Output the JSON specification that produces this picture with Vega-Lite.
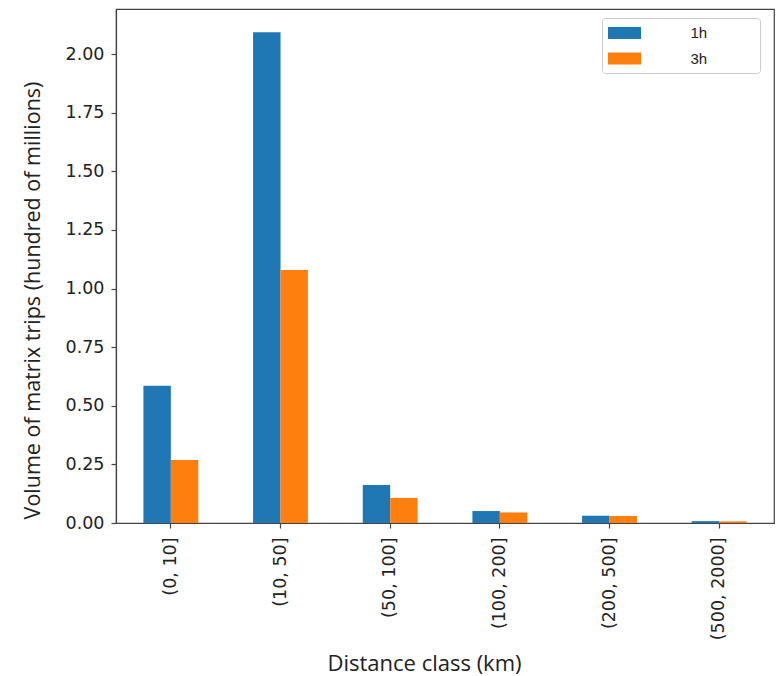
{
  "$schema": "https://vega.github.io/schema/vega-lite/v6.json",
  "width": 658,
  "height": 514,
  "autosize": {"type": "none"},
  "padding": {"left": 116, "top": 9, "right": 2, "bottom": 153},
  "background": "white",
  "config": {
    "view": {"stroke": "#444", "strokeWidth": 1.2},
    "axis": {
      "domainColor": "#444",
      "domainWidth": 1.2,
      "tickColor": "#444",
      "tickWidth": 1.2,
      "tickSize": 5,
      "labelFont": "DejaVu Sans",
      "labelFontSize": 17.5,
      "labelColor": "#222",
      "titleFont": "Open Sans",
      "titleFontWeight": "normal",
      "titleColor": "#222",
      "grid": false
    }
  },
  "data": {
    "values": [
      {"distance": "(0, 10]", "window": "1h", "volume": 0.585},
      {"distance": "(0, 10]", "window": "3h", "volume": 0.269},
      {"distance": "(10, 50]", "window": "1h", "volume": 2.093},
      {"distance": "(10, 50]", "window": "3h", "volume": 1.079},
      {"distance": "(50, 100]", "window": "1h", "volume": 0.162},
      {"distance": "(50, 100]", "window": "3h", "volume": 0.107},
      {"distance": "(100, 200]", "window": "1h", "volume": 0.051},
      {"distance": "(100, 200]", "window": "3h", "volume": 0.045},
      {"distance": "(200, 500]", "window": "1h", "volume": 0.031},
      {"distance": "(200, 500]", "window": "3h", "volume": 0.030},
      {"distance": "(500, 2000]", "window": "1h", "volume": 0.008},
      {"distance": "(500, 2000]", "window": "3h", "volume": 0.007}
    ]
  },
  "mark": {"type": "bar"},
  "encoding": {
    "x": {
      "field": "distance",
      "type": "nominal",
      "sort": null,
      "scale": {"paddingInner": 0.5, "paddingOuter": 0.25},
      "axis": {
        "title": "Distance class (km)",
        "titleFontSize": 22,
        "labelAngle": -90,
        "labelPadding": 9,
        "titleX": 308,
        "titleY": 147,
        "titleBaseline": "alphabetic",
        "titleAlign": "center"
      }
    },
    "xOffset": {"field": "window", "type": "nominal", "sort": ["1h", "3h"]},
    "y": {
      "field": "volume",
      "type": "quantitative",
      "scale": {"domain": [0, 2.192], "nice": false, "zero": true},
      "axis": {
        "title": "Volume of matrix trips (hundred of millions)",
        "titleFontSize": 21.5,
        "values": [0, 0.25, 0.5, 0.75, 1, 1.25, 1.5, 1.75, 2],
        "format": ".2f",
        "labelPadding": 7,
        "titleX": -83,
        "titleY": 291,
        "titleBaseline": "middle",
        "titleAlign": "center",
        "titleAngle": 270
      }
    },
    "color": {
      "field": "window",
      "type": "nominal",
      "scale": {"domain": ["1h", "3h"], "range": ["#1f77b4", "#ff7f0e"]},
      "legend": {
        "title": null,
        "orient": "none",
        "legendX": 486,
        "legendY": 9,
        "direction": "vertical",
        "padding": 6,
        "strokeColor": "#cccccc",
        "cornerRadius": 3,
        "fillColor": "white",
        "symbolType": "M-1.833,-0.667H1.833V0.667H-1.833Z",
        "symbolSize": 324,
        "symbolStrokeWidth": 0,
        "symbolOffset": 7.5,
        "rowPadding": 8.5,
        "labelFont": "Liberation Sans",
        "labelFontSize": 15,
        "labelColor": "#222",
        "labelOffset": 57,
        "labelExpr": "datum.label + '\u00a0\u00a0\u00a0\u00a0\u00a0\u00a0\u00a0\u00a0\u00a0\u00a0\u00a0\u200b'"
      }
    }
  }
}
